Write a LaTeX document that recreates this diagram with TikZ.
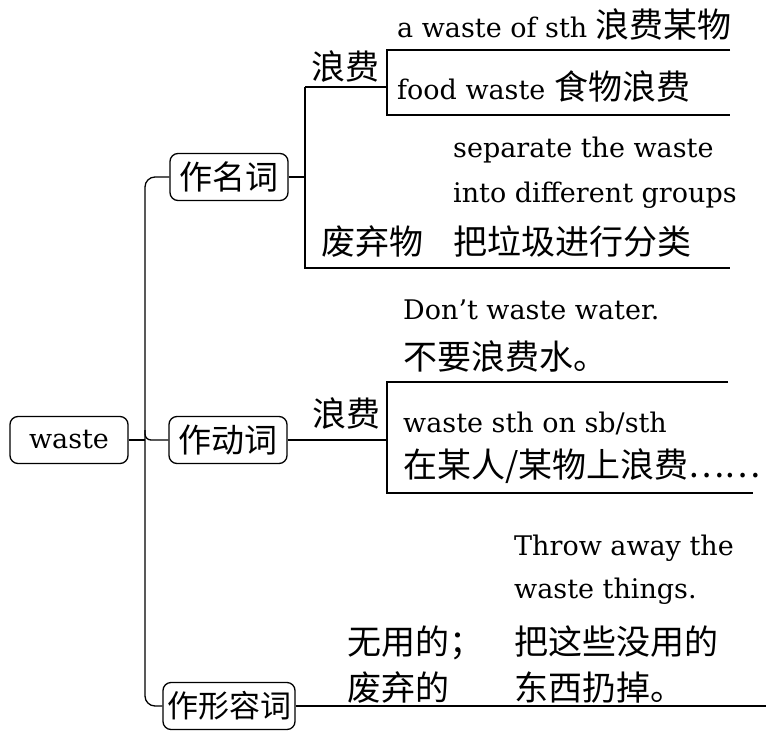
\documentclass[tikz,border=0pt]{standalone}
\usepackage{fontspec}
\setmainfont{DejaVu Serif}
\newfontfamily\cjk{Noto Sans CJK SC}
\usepackage{tikz}
\usetikzlibrary{calc,positioning}
\newcommand{\zh}[1]{{\cjk\fontsize{34}{40}\selectfont #1}}
\newcommand{\zhbox}[1]{{\cjk\fontsize{33}{40}\selectfont #1}}
\tikzstyle{catbox} = [draw, rounded corners=8pt, line width=1.3pt,
minimum height=47pt, inner xsep=1pt, inner ysep=0pt]
\tikzstyle{link} = [line width=1.3pt]
\tikzstyle{txt} = [anchor=base west, inner sep=0pt, font=\fontsize{27}{32}\selectfont]

\begin{document}
\begin{tikzpicture}[x=1pt, y=-1pt]
            \useasboundingbox (0,0) rectangle (766,737);
            % main word and the three uses
            \node[catbox, minimum width=118pt, font=\fontsize{27}{32}\selectfont] (waste) at (69,440) {waste};
            \node[catbox, minimum width=118pt] (ming) at (229,177) {\zhbox{作名词}};
            \node[catbox, minimum width=118pt] (dong) at (228,440) {\zhbox{作动词}};
            \node[catbox, minimum width=132pt] (xing) at (229,706) {{\cjk\fontsize{31}{40}\selectfont 作形容词}};
            \coordinate (trunk) at (145,440);
            \draw[link] (waste) -- (trunk);
            \draw[link, rounded corners=10pt] (ming.west) -| (trunk) |- (xing.west);
            \draw[link, rounded corners=6pt] (145,430) |- (dong.west);

            % noun
            \coordinate (mtop) at (305,87);
            \coordinate (mbot) at (305,268);
            \coordinate (mend) at (730,268);
            \coordinate (ltop) at (387,50);
            \coordinate (lbot) at (387,115);
            \coordinate (ltopend) at (730,50);
            \coordinate (lbotend) at (730,115);
            \draw[link] (ming.east) -- (ming.east -| mtop);
            \draw[link] (mtop) -- (mbot) -- (mend);
            \draw[link] (mtop) -- (mtop -| ltop);
            \draw[link] (ltopend) -- (ltop) -- (lbot) -- (lbotend);
            \node[txt] (nlf) at (311,79) {\zh{浪费}};
            \node[txt] (nfq) at (321,254) {\zh{废弃物}};
            \node[txt] (nx1) at (397,37) {a waste of sth \zh{浪费某物}};
            \node[txt] (nx2) at (397,99) {food waste \zh{食物浪费}};
            \node[txt] (nx3) at (453,157) {separate the waste};
            \node[txt] (nx4) at (453,202) {into different groups};
            \node[txt] (nx5) at (453,254) {\zh{把垃圾进行分类}};

            % verb
            \coordinate (vtop) at (387,382);
            \coordinate (vbot) at (387,493);
            \coordinate (vtopend) at (728,382);
            \coordinate (vbotend) at (753,493);
            \draw[link] (dong.east) -- (dong.east -| vtop);
            \draw[link] (vtopend) -- (vtop) -- (vbot) -- (vbotend);
            \node[txt] (vlf) at (312,426) {\zh{浪费}};
            \node[txt] (vx1) at (403,319) {Don’t waste water.};
            \node[txt] (vx2) at (403,369) {\zh{不要浪费水。}};
            \node[txt] (vx3) at (403,432) {waste sth on sb/sth};
            \node[txt] (vx4) at (403,477) {\zh{在某人/某物上浪费……}};

            % adjective
            \coordinate (aend) at (766,706);
            \draw[link] (xing.east) -- (aend);
            \node[txt] (awy) at (347,654) {\zh{无用的；}};
            \node[txt] (afq) at (347,700) {\zh{废弃的}};
            \node[txt] (ax1) at (514,555) {Throw away the};
            \node[txt] (ax2) at (514,598) {waste things.};
            \node[txt] (ax3) at (514,654) {\zh{把这些没用的}};
            \node[txt] (ax4) at (514,700) {\zh{东西扔掉。}};
        \end{tikzpicture}
\end{document}
